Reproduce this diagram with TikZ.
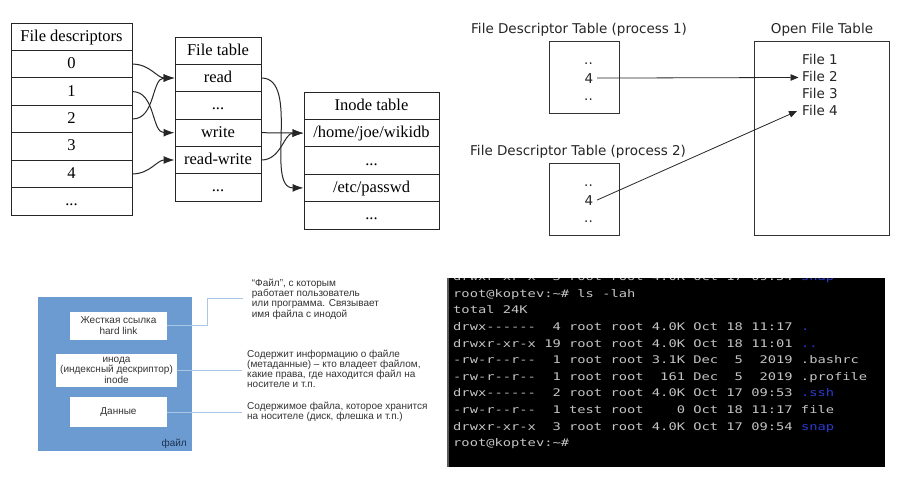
\documentclass[tikz,border=0pt]{standalone}
\usepackage{fontspec}
\setmainfont{Liberation Serif}
\newfontfamily\dvs{DejaVu Sans}
\newfontfamily\las{Liberation Sans}
\newfontfamily\termfont[FakeStretch=1.31,Ligatures=TeXOff]{DejaVu Sans Mono}
\usetikzlibrary{arrows.meta}
\definecolor{fblue}{HTML}{6C9BD2}
\definecolor{lblue}{HTML}{A9C6E4}
\definecolor{tgray}{HTML}{C4C4C4}
\definecolor{tblue}{HTML}{2B3BD0}
\definecolor{dtext}{HTML}{333333}
\definecolor{navy}{HTML}{1E3250}
\tikzset{
  cell/.style={draw=black!85, line width=1pt, minimum height=27.4pt, inner sep=0pt,
    text height=12pt, text depth=3pt, font=\fontsize{16.5}{18}\selectfont},
  fdcell/.style={cell, minimum width=121pt},
  ftcell/.style={cell, minimum width=86pt},
  itcell/.style={cell, minimum width=135pt},
  gv/.style={-{Latex[length=11pt,width=8pt]}, line width=1pt, draw=black!85},
  fdbox/.style={draw=black!80, line width=0.9pt, inner sep=0pt},
  dvtext/.style={inner sep=0pt, font=\dvs\fontsize{13.5}{16}\selectfont, text=black!85},
  thin/.style={-{Triangle[length=8pt,width=6.5pt]}, line width=0.8pt, draw=black!85},
  wbox/.style={fill=white, inner sep=0pt, align=center, text=dtext,
    font=\las\fontsize{10}{10.6}\selectfont},
  desc/.style={inner sep=0pt, align=left, anchor=north west, text=dtext,
    font=\las\fontsize{10}{10.2}\selectfont},
  lead/.style={draw=lblue, line width=0.9pt},
  term/.style={inner sep=0pt, anchor=base west, text=tgray,
    font=\termfont\fontsize{10.5}{12}\selectfont}
}
\begin{document}
\begin{tikzpicture}[x=1pt,y=-1pt]
\fill[white] (0,0) rectangle (901,482);
\useasboundingbox (0,0) rectangle (901,482);

% ---------- Panel 1 ----------
\node[fdcell] (fdh) at (71.5,36.7) {File descriptors};
\node[fdcell] (fd0) at (71.5,64.1) {0};
\node[fdcell] (fd1) at (71.5,91.6) {1};
\node[fdcell] (fd2) at (71.5,119) {2};
\node[fdcell] (fd3) at (71.5,146.4) {3};
\node[fdcell] (fd4) at (71.5,173.9) {4};
\node[fdcell] (fd5) at (71.5,201.3) {...};

\node[ftcell] (fth) at (218,50.7) {File table};
\node[ftcell] (ftread) at (218,78) {read};
\node[ftcell] (ftd1) at (218,105.3) {...};
\node[ftcell] (ftwrite) at (218,132.7) {write};
\node[ftcell] (ftrw) at (218,160) {read-write};
\node[ftcell] (ftd2) at (218,187.3) {...};

\node[itcell] (ith) at (371.5,105.7) {Inode table};
\node[itcell] (itwiki) at (371.5,133.1) {/home/joe/wikidb};
\node[itcell] (itd1) at (371.5,160.5) {...};
\node[itcell] (itpasswd) at (371.5,187.9) {/etc/passwd};
\node[itcell] (itd2) at (371.5,215.3) {...};

\draw[gv] (fd0.east) to[out=0,in=180] (ftread.west);
\draw[gv] (fd2.east) to[out=0,in=180] (ftread.west);
\draw[gv] (fd1.east) to[out=0,in=180] (ftwrite.west);
\draw[gv] (fd4.east) to[out=0,in=180] (ftrw.west);
\draw[gv] (ftread.east) to[out=0,in=180,looseness=0.85] (itpasswd.west);
\draw[gv] (ftwrite.east) -- (itwiki.west);
\draw[gv] (ftrw.east) to[out=0,in=180] (itwiki.west);

% ---------- Panel 2 ----------
\node[dvtext, anchor=base west] (p1lbl) at (471,33) {File Descriptor Table (process 1)};
\node[dvtext, anchor=base west] (p2lbl) at (470,155) {File Descriptor Table (process 2)};
\node[dvtext, anchor=base] (oftlbl) at (822,33) {Open File Table};
\node[fdbox, minimum width=70pt, minimum height=72pt] (p1box) at (584,77) {};
\node[fdbox, minimum width=70pt, minimum height=72pt] (p2box) at (584,199) {};
\node[fdbox, minimum width=135pt, minimum height=194pt] (oftbox) at (821.5,138) {};
\node[dvtext, anchor=base] (p1a) at (588.5,64.5) {..};
\node[dvtext, anchor=base] (p1four) at (589,83) {4};
\node[dvtext, anchor=base] (p1b) at (588.5,100.5) {..};
\node[dvtext, anchor=base] (p2a) at (588.5,186.5) {..};
\node[dvtext, anchor=base] (p2four) at (589,205) {4};
\node[dvtext, anchor=base] (p2b) at (588.5,222.5) {..};
\node[dvtext, anchor=base west] (f1) at (802,64) {File 1};
\node[dvtext, anchor=base west] (f2) at (802,81) {File 2};
\node[dvtext, anchor=base west] (f3) at (802,98.3) {File 3};
\node[dvtext, anchor=base west] (f4) at (802,115.6) {File 4};
\draw[thin] ([xshift=3.5pt]p1four.east) -- ([xshift=-3.5pt,yshift=-1.5pt]f2.west);
\draw[thin] ([xshift=3.5pt]p2four.east) -- ([xshift=-5pt,yshift=-0.5pt]f4.west);

% ---------- Panel 3 ----------
\node[fill=fblue, inner sep=0pt, minimum width=154pt, minimum height=154pt] (filebox) at (115,374) {};
\node[wbox, minimum width=97pt, minimum height=28.3pt] (hl) at (118.5,325.8)
  {Жесткая ссылка\\hard link};
\node[wbox, minimum width=121pt, minimum height=32.7pt] (ino) at (116.5,370.3)
  {инода\\(индексный дескриптор)\\inode};
\node[wbox, minimum width=97pt, minimum height=30pt] (data) at (118.5,412)
  {Данные};
\node[inner sep=0pt, anchor=base east, text=navy, font=\las\fontsize{10}{12}\selectfont] (fl) at (187,446) {файл};
\coordinate (hlc) at (207,298);
\coordinate (hle) at (243,298);
\coordinate (inoe) at (242,370.3);
\coordinate (datae) at (242,412);
\draw[lead] (hl.east) -| (hlc) -- (hle);
\draw[lead] (ino.east) -- (inoe);
\draw[lead] (data.east) -- (datae);
\node[desc] (d1) at (251.7,278.8)
  {“Файл”, с которым\\работает пользователь\\или программа. Связывает\\имя файла с инодой};
\node[desc] (d2) at (247,349.5)
  {Содержит информацию о файле\\(метаданные) – кто владеет файлом,\\какие права, где находится файл на\\носителе и т.п.};
\node[desc] (d3) at (247,401.5)
  {Содержимое файла, которое хранится\\на носителе (диск, флешка и т.п.)};

% ---------- Panel 4 ----------
\fill[black] (447,278) rectangle (885,467);
\fill[black!65] (447,278) rectangle (449,467);
\begin{scope}
\clip (447,278) rectangle (885,467);
\node[term] (t0) at (453,280.7) {drwxr-xr-x~~3~root~root~4.0K~Oct~17~09:54~\textcolor{tblue}{snap}};
\node[term] (t1) at (453,297.3) {root@koptev:\textasciitilde\#~ls~-lah};
\node[term] (t2) at (453,313.9) {total~24K};
\node[term] (t3) at (453,330.5) {drwx------~~4~root~root~4.0K~Oct~18~11:17~\textcolor{tblue}{.}};
\node[term] (t4) at (453,347.1) {drwxr-xr-x~19~root~root~4.0K~Oct~18~11:01~\textcolor{tblue}{..}};
\node[term] (t5) at (453,363.7) {-rw-r--r--~~1~root~root~3.1K~Dec~~5~~2019~.bashrc};
\node[term] (t6) at (453,380.3) {-rw-r--r--~~1~root~root~~161~Dec~~5~~2019~.profile};
\node[term] (t7) at (453,396.9) {drwx------~~2~root~root~4.0K~Oct~17~09:53~\textcolor{tblue}{.ssh}};
\node[term] (t8) at (453,413.5) {-rw-r--r--~~1~test~root~~~~0~Oct~18~11:17~file};
\node[term] (t9) at (453,430.1) {drwxr-xr-x~~3~root~root~4.0K~Oct~17~09:54~\textcolor{tblue}{snap}};
\node[term] (t10) at (453,446.7) {root@koptev:\textasciitilde\#};
\end{scope}
\end{tikzpicture}
\end{document}
